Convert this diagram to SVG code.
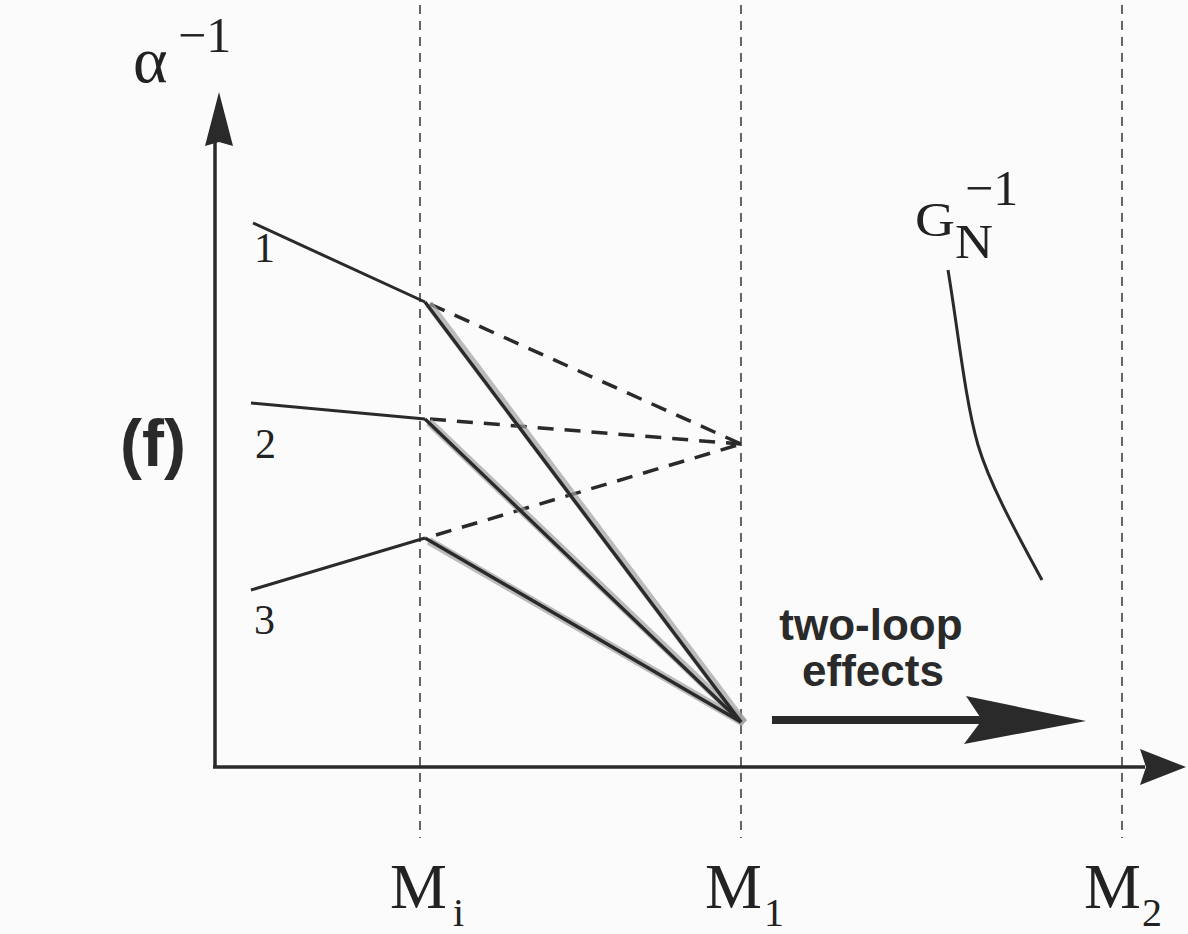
<svg xmlns="http://www.w3.org/2000/svg" width="1188" height="934" viewBox="0 0 1188 934">
<style>
.serif{font-family:"Liberation Serif","Times New Roman",serif;fill:#222}
.sans{font-family:"Liberation Sans",Arial,sans-serif;font-weight:bold;fill:#2a2a2a}
.vd{stroke:#333;stroke-width:1.5;stroke-dasharray:9 7;fill:none}
.ax{stroke:#2a2a2a;stroke-width:3.5;fill:none}
.seg{stroke:#2a2a2a;stroke-width:3;fill:none}
.dash{stroke:#2a2a2a;stroke-width:3.5;stroke-dasharray:16 11;fill:none}
.shadow{stroke:#a0a0a0;stroke-width:8;fill:none;opacity:0.7}
.thick{stroke:#2a2a2a;stroke-width:3.4;fill:none}
</style>
<rect width="1188" height="934" fill="#fbfbfb"/>
<g id="guides">
<line class="vd" x1="420" y1="5" x2="420" y2="838"/>
<line class="vd" x1="741" y1="5" x2="741" y2="838"/>
<line class="vd" x1="1122" y1="5" x2="1122" y2="838"/>
</g>
<g id="axes">
<line class="ax" x1="215" y1="768" x2="215" y2="140"/>
<polygon points="219,92 233,146 219,142 205,146" fill="#2a2a2a"/>
<line class="ax" x1="213" y1="767" x2="1145" y2="767"/>
<polygon points="1186,767 1140,749 1146,767 1140,785" fill="#2a2a2a"/>
</g>
<g id="labels">
<text class="serif" x="133" y="82" font-size="66">α</text>
<text class="serif" x="178" y="52" font-size="50">−1</text>
<text class="sans" x="120" y="466" font-size="66">(f)</text>
<text class="serif" x="254" y="262" font-size="42">1</text>
<text class="serif" x="255" y="458" font-size="42">2</text>
<text class="serif" x="254" y="634" font-size="42">3</text>
<text class="serif" x="915" y="236" font-size="48" textLength="40" lengthAdjust="spacingAndGlyphs">G</text>
<text class="serif" x="955" y="258" font-size="48" textLength="38" lengthAdjust="spacingAndGlyphs">N</text>
<text class="serif" x="965" y="205" font-size="50">−1</text>
<text class="serif" x="390" y="908" font-size="64">M</text>
<text class="serif" x="453" y="926" font-size="40">i</text>
<text class="serif" x="705" y="908" font-size="64">M</text>
<text class="serif" x="764" y="926" font-size="40">1</text>
<text class="serif" x="1084" y="908" font-size="64">M</text>
<text class="serif" x="1142" y="926" font-size="40">2</text>
<text class="sans" x="871" y="640" font-size="44" text-anchor="middle">two-loop</text>
<text class="sans" x="873" y="686" font-size="44" text-anchor="middle">effects</text>
</g>
<g id="connectors">
<line class="seg" x1="253" y1="223" x2="425" y2="302"/>
<line class="seg" x1="251" y1="403" x2="425" y2="419"/>
<line class="seg" x1="251" y1="590" x2="425" y2="538"/>
<line class="dash" x1="430" y1="304" x2="741" y2="444"/>
<line class="dash" x1="430" y1="419" x2="741" y2="444"/>
<line class="dash" x1="436" y1="535" x2="741" y2="444"/>
<line class="shadow" x1="429" y1="304" x2="744" y2="723"/>
<line class="shadow" x1="429" y1="422" x2="744" y2="723"/>
<line class="shadow" x1="429" y1="541" x2="744" y2="723"/>
<line class="thick" x1="425" y1="302" x2="741" y2="722"/>
<line class="thick" x1="425" y1="419" x2="741" y2="722"/>
<line class="thick" x1="425" y1="538" x2="741" y2="722"/>
<path class="seg" d="M948,270 C958,330 965,400 978,445 C990,485 1015,530 1042,580"/>
<line x1="772" y1="720" x2="985" y2="720" stroke="#2a2a2a" stroke-width="8"/>
<polygon points="1086,721 966,696 982,720 964,744" fill="#2a2a2a"/>
</g>
</svg>
